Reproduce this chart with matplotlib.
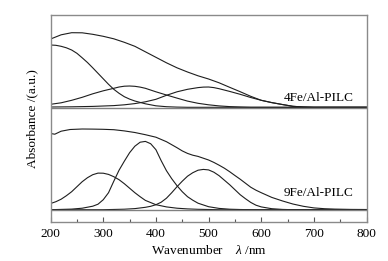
import numpy as np
import matplotlib
matplotlib.use('Agg')
import matplotlib.pyplot as plt

plt.rcParams['font.family'] = ['Liberation Serif', 'DejaVu Serif']
plt.rcParams['mathtext.fontset'] = 'custom'
plt.rcParams['mathtext.rm'] = 'Liberation Serif'
plt.rcParams['mathtext.it'] = 'Liberation Serif:italic'

# 4Fe/Al-PILC : measured envelope and fitted bands (a.u. above the panel baseline)
fe4_total_x = [200, 220, 240, 260, 280, 300, 320, 340, 360, 380, 400, 420, 440, 460, 480, 500,
               520, 540, 560, 580, 600, 620, 640, 660, 680, 700, 800]
fe4_total_y = [68.3, 72.5, 74.6, 74.5, 73, 71, 68.5, 65, 61, 55.5, 50, 44.5, 39.5, 35.3, 31.5, 28.3,
               24.5, 20, 15.6, 11, 7, 4.7, 2.8, 1, 0.3, 0, 0]
fe4_b1_x = [200, 210, 220, 230, 240, 250, 260, 270, 280, 290, 300, 310, 320, 330, 340, 350,
            360, 380, 400, 420, 440, 460, 800]
fe4_b1_y = [62.3, 62, 61, 59.5, 57.3, 54, 49.5, 44.8, 39.5, 34, 28.5, 23, 18, 14, 10.6, 8.2,
            6.3, 3.5, 1.5, 0.6, 0.2, 0, 0]
fe4_b2_x = [200, 220, 240, 260, 280, 300, 320, 330, 340, 350, 360, 370, 380, 400, 420, 440,
            460, 480, 500, 520, 540, 560, 580, 800]
fe4_b2_y = [3, 4.5, 7, 10, 13.5, 16.5, 19, 20.3, 21.1, 21.3, 21, 20.2, 19, 15.5, 12.3, 9.2,
            6.2, 4, 2.5, 1.4, 0.7, 0.3, 0, 0]
fe4_b3_x = [200, 240, 280, 320, 340, 360, 380, 400, 420, 440, 460, 480, 490, 500, 510, 520,
            540, 560, 580, 600, 620, 640, 660, 680, 700, 800]
fe4_b3_y = [0.3, 0.5, 0.9, 1.7, 2.5, 3.7, 5.5, 8, 12, 15.5, 18, 19.7, 20.2, 20.3, 19.7, 18.6,
            15.9, 13, 9.8, 7, 4.7, 2.8, 1, 0.3, 0, 0]

# 9Fe/Al-PILC
fe9_total_x = [200, 208, 220, 237, 260, 280, 300, 320, 340, 360, 380, 400, 420, 440, 450, 460,
               470, 480, 490, 500, 510, 520, 530, 540, 550, 560, 570, 580, 590, 600, 620, 640,
               660, 680, 700, 720, 740, 770, 800]
fe9_total_y = [76.2, 75.5, 78.5, 80.2, 80.7, 80.6, 80.4, 80, 78.8, 77.2, 75, 72.5, 68, 62, 58.8, 56.3,
               54.5, 53.3, 51.5, 49.7, 47.3, 44.5, 41.5, 38, 34.2, 30.5, 26.5, 22.5, 19.5, 17, 12.3, 8.8,
               5.7, 3.4, 1.8, 1, 0.6, 0.3, 0.2]
fe9_b1_x = [200, 210, 220, 230, 240, 250, 260, 270, 280, 290, 300, 310, 320, 330, 340, 350,
            360, 370, 380, 400, 420, 440, 460, 480, 500, 520, 800]
fe9_b1_y = [6.2, 8, 10.5, 14, 18, 23, 28, 32, 35, 36.6, 36.5, 35.3, 33, 30, 26, 21.5,
            17, 13, 9.3, 5, 2.8, 1.5, 0.8, 0.4, 0.2, 0, 0]
fe9_b2_x = [200, 240, 260, 280, 290, 300, 310, 320, 330, 340, 350, 360, 370, 380, 390, 400,
            410, 420, 430, 440, 450, 460, 470, 480, 500, 520, 540, 560, 580, 800]
fe9_b2_y = [0, 0.6, 1.5, 3.5, 5.5, 10, 17, 28.5, 39.5, 48.5, 57, 63.5, 67.5, 68.3, 66, 60,
            49, 39, 31, 24, 18, 13, 9.5, 6.5, 3, 1.3, 0.5, 0.2, 0, 0]
fe9_b3_x = [200, 300, 340, 360, 380, 390, 400, 410, 420, 430, 440, 450, 460, 470, 480, 490,
            500, 510, 520, 530, 540, 550, 560, 570, 580, 590, 600, 620, 640, 660, 800]
fe9_b3_y = [0, 0, 0.5, 1.1, 2.4, 3.4, 5, 7.5, 11.5, 17, 23, 28.5, 33.5, 37, 39.5, 40.3,
            39.8, 37.5, 34, 29.5, 25, 20, 15, 11, 7.3, 4.5, 2.8, 1, 0.3, 0, 0]

top_base = 1.147
bot_base = 0.123
sep = 1.137

fig = plt.figure(figsize=(3.88, 2.61), dpi=100)
ax = fig.add_axes([0.1304, 0.1494, 0.8144, 0.7931])

lc = '#1e1e1e'
top = [(fe4_total_x, fe4_total_y), (fe4_b1_x, fe4_b1_y), (fe4_b2_x, fe4_b2_y), (fe4_b3_x, fe4_b3_y)]
bot = [(fe9_total_x, fe9_total_y), (fe9_b1_x, fe9_b1_y), (fe9_b2_x, fe9_b2_y), (fe9_b3_x, fe9_b3_y)]
for xs, ys in top:
    ax.plot(xs, top_base + np.array(ys) / 100, color=lc, lw=0.8)
for xs, ys in bot:
    ax.plot(xs, bot_base + np.array(ys) / 100, color=lc, lw=0.8)

ax.axhline(sep, color='#808080', lw=1.0)
ax.axhline(bot_base, color='#808080', lw=1.0)

ax.text(776, 1.243, '4Fe/Al-PILC', ha='right', va='center', fontsize=9.5)
ax.text(776, 0.287, '9Fe/Al-PILC', ha='right', va='center', fontsize=9.5)

ax.set_xlim(200, 800)
ax.set_ylim(0, 2.07)
ax.set_xticks(range(200, 801, 100))
ax.set_xticks(range(250, 800, 100), minor=True)
ax.set_yticks([])
ax.tick_params(axis='x', which='major', direction='in', length=3.6, width=0.8,
               color='#555555', labelsize=9.5, pad=4.5)
ax.tick_params(axis='x', which='minor', direction='in', length=2.2, width=0.8, color='#555555')
for sp in ax.spines.values():
    sp.set_color('#8a8a8a')
    sp.set_linewidth(1.0)

ax.set_xlabel('Wavenumber    $\\mathit{\\lambda}$ /nm', fontsize=9.5, labelpad=3)
ax.set_ylabel('Absorbance /(a.u.)', fontsize=9.5, labelpad=9)

fig.savefig('out.png', dpi=100, facecolor='white')
